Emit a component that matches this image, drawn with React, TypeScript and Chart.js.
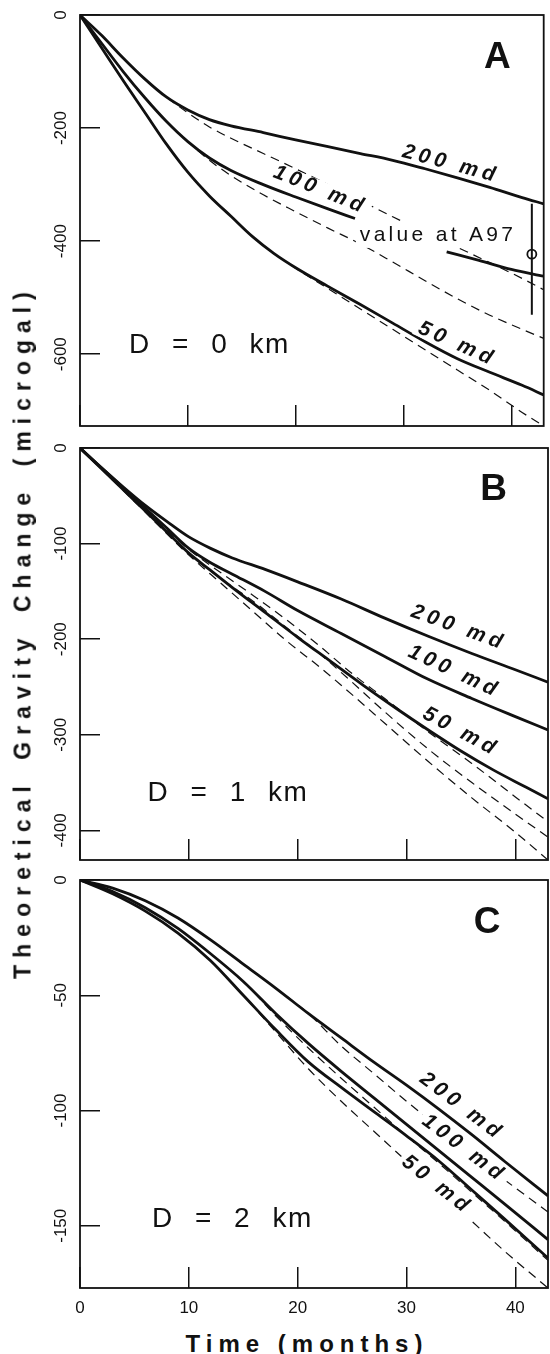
import React, { useEffect, useRef } from "react";
import { Chart, registerables } from "chart.js";

Chart.register(...registerables);

const FONT = '"Liberation Sans", Arial, Helvetica, sans-serif';
const INK = "#111111";

// ---------- axes ----------
const xTicks = [0, 10, 20, 30, 40];
const xTickLabels = ["0", "10", "20", "30", "40"];
const xMax = 43;

const yTicksA = [0, -200, -400, -600];
const yLabelsA = ["0", "-200", "-400", "-600"];
const yTicksB = [0, -100, -200, -300, -400];
const yLabelsB = ["0", "-100", "-200", "-300", "-400"];
const yTicksC = [0, -50, -100, -150];
const yLabelsC = ["0", "-50", "-100", "-150"];

// ---------- Panel A : D = 0 km ----------
const tA200 = [0, 2, 4, 6, 8, 10, 12, 14, 17, 20, 23, 26, 29, 32, 35, 38, 41, 43];
const gA200 = [0, -36, -76, -113, -145, -168, -185, -196, -208, -221, -233, -245, -257, -272, -288, -305, -323, -334];
const gA200dash = [0, -36, -76, -113, -145, -173, -198, -218, -245, -272, -300, -328, -357, -384, -411, -438, -466, -486];

const tA100first = [0, 2, 4, 6, 8, 10, 12, 14, 17, 20, 23, 25.5];
const gA100first = [0, -50, -100, -146, -188, -224, -253, -275, -300, -322, -343, -360];
const tA100second = [34, 37, 40, 43];
const gA100second = [-419, -434, -450, -462];
const tA100dash = [0, 2, 4, 6, 8, 10, 12, 14, 17, 20, 23, 26, 29, 32, 35, 38, 41, 43];
const gA100dash = [0, -50, -100, -146, -188, -224, -257, -284, -318, -348, -377, -405, -437, -470, -502, -531, -556, -572];

const tA50 = [0, 2, 4, 6, 8, 10, 12, 14, 16, 18, 20, 23, 26, 29, 32, 35, 38, 41, 43];
const gA50 = [0, -58, -116, -172, -228, -278, -320, -356, -392, -422, -447, -480, -512, -545, -578, -608, -632, -655, -672];
const gA50dash = [0, -58, -116, -172, -228, -278, -320, -356, -392, -422, -448, -484, -520, -556, -592, -628, -664, -703, -727];

// value at A97 (error bar)
const a97Time = [41.9];
const a97Value = [-423];
const a97Low = [-530];
const a97High = [-334];

// ---------- Panel B : D = 1 km ----------
const tB = [0, 2, 4, 6, 8, 10, 12, 14, 17, 20, 24, 28, 32, 36, 40, 43];
const gB200 = [0, -21, -41, -60, -77, -93, -105, -115, -127, -140, -158, -178, -197, -215, -232, -245];
const gB100 = [0, -21, -42, -63, -84, -105, -120, -132, -150, -170, -194, -218, -242, -262, -281, -295];
const tB50 = [0, 2, 4, 6, 8, 10, 12, 14, 17, 20, 23, 26, 29, 32, 35, 38, 41, 43];
const gB50 = [0, -22, -44, -66, -88, -110, -128, -146, -172, -198, -223, -248, -272, -295, -317, -337, -355, -367];
const tBdash = [0, 5, 10, 13, 16, 19, 22, 25, 28, 32, 36, 40, 43];
const gBdash1 = [0, -54, -106, -131, -155, -180, -207, -236, -262, -297, -330, -365, -391];
const gBdash2 = [0, -55, -111, -137, -161, -188, -215, -245, -276, -315, -350, -383, -407];
const gBdash3 = [0, -56, -112, -142, -172, -202, -229, -258, -288, -328, -366, -402, -431];

// ---------- Panel C : D = 2 km ----------
const tC = [0, 3, 6, 9, 12, 15, 18, 21, 24, 27, 30, 33, 36, 39, 43];
const gC200 = [0, -3.5, -9, -16.5, -26, -36.5, -47, -58, -68.5, -79, -89, -99.5, -110.5, -122, -137];
const gC100 = [0, -5, -12, -21, -32, -44, -58, -71, -83, -94.5, -106, -117.5, -129, -140.5, -156];
const gC50 = [0, -6, -13.5, -23, -35, -50, -65, -79, -90, -100.5, -111, -122, -134.5, -147, -164];
const gC200dash = [0, -3.5, -9, -16.5, -26, -36.5, -47, -58, -72, -84, -96, -107.5, -119, -130, -144];
const gC100dash = [0, -5, -12, -21, -32, -44, -59, -73, -86, -98.5, -111, -123, -135.5, -148, -165];
const gC50dash = [0, -6, -13.5, -23, -35, -50, -66, -82, -96, -109, -122, -135, -148, -161, -177];

// ---------- helpers ----------
const pts = (t: number[], v: number[]) => t.map((x, i) => ({ x, y: v[i] }));

const solid = (data: any) => ({
  type: "line",
  data,
  borderColor: INK,
  borderWidth: 2.8,
  pointRadius: 0,
  tension: 0.4,
  cubicInterpolationMode: "monotone",
  fill: false,
});
const dashed = (data: any) => ({ ...solid(data), borderWidth: 1.2, borderDash: [9, 6] });

type TextItem = {
  text: string;
  t: number;
  v: number;
  rot: number;
  font: string;
  ls?: number;
  ws?: number;
  box?: number;
};

const curveFont = `italic bold 21px ${FONT}`;
const dFont = `28px ${FONT}`;
const letterFont = `bold 37px ${FONT}`;

const panels = [
  {
    key: "A",
    top: 0,
    height: 440,
    padTop: 15,
    padBottom: 14,
    xAxisH: 0,
    yMin: -727,
    yTicks: yTicksA,
    yLabels: yLabelsA,
    showX: false,
    datasets: [
      dashed(pts(tA200, gA200dash)),
      dashed(pts(tA100dash, gA100dash)),
      dashed(pts(tA50, gA50dash)),
      solid(pts(tA200, gA200)),
      solid(pts(tA100first, gA100first)),
      solid(pts(tA100second, gA100second)),
      solid(pts(tA50, gA50)),
      {
        type: "line",
        data: [
          { x: a97Time[0], y: a97High[0] },
          { x: a97Time[0], y: a97Low[0] },
        ],
        borderColor: INK,
        borderWidth: 2,
        pointRadius: 0,
      },
      {
        type: "line",
        data: pts(a97Time, a97Value),
        showLine: false,
        pointRadius: 4.5,
        pointBackgroundColor: "#ffffff",
        pointBorderColor: INK,
        pointBorderWidth: 1.8,
      },
    ],
    texts: [
      { text: "A", t: 38.7, v: -76, rot: 0, font: letterFont },
      { text: "200 md", t: 34.4, v: -263.5, rot: 15, font: curveFont, ls: 4.5, box: 18 },
      { text: "100 md", t: 22.3, v: -309.5, rot: 22, font: curveFont, ls: 4.5, box: 18 },
      { text: "50 md", t: 35, v: -582, rot: 24, font: curveFont, ls: 4.5, box: 18 },
      { text: "value at A97", t: 33.2, v: -389, rot: 0, font: `21px ${FONT}`, ls: 3.3, box: 26 },
      { text: "D = 0 km", t: 12, v: -583.5, rot: 0, font: dFont, ls: 1.5, ws: 12 },
    ] as TextItem[],
  },
  {
    key: "B",
    top: 440,
    height: 430,
    padTop: 8,
    padBottom: 10,
    xAxisH: 0,
    yMin: -431,
    yTicks: yTicksB,
    yLabels: yLabelsB,
    showX: false,
    datasets: [
      dashed(pts(tBdash, gBdash1)),
      dashed(pts(tBdash, gBdash2)),
      dashed(pts(tBdash, gBdash3)),
      solid(pts(tB, gB200)),
      solid(pts(tB, gB100)),
      solid(pts(tB50, gB50)),
    ],
    texts: [
      { text: "B", t: 38, v: -44, rot: 0, font: letterFont },
      { text: "200 md", t: 34.8, v: -188, rot: 20, font: curveFont, ls: 4.5, box: 18 },
      { text: "100 md", t: 34.4, v: -234, rot: 25, font: curveFont, ls: 4.5, box: 18 },
      { text: "50 md", t: 35, v: -297, rot: 28, font: curveFont, ls: 4.5, box: 18 },
      { text: "D = 1 km", t: 13.6, v: -361, rot: 0, font: dFont, ls: 1.5, ws: 12 },
    ] as TextItem[],
  },
  {
    key: "C",
    top: 870,
    height: 450,
    padTop: 10,
    padBottom: 0,
    xAxisH: 32,
    yMin: -177,
    yTicks: yTicksC,
    yLabels: yLabelsC,
    showX: true,
    datasets: [
      dashed(pts(tC, gC200dash)),
      dashed(pts(tC, gC100dash)),
      dashed(pts(tC, gC50dash)),
      solid(pts(tC, gC200)),
      solid(pts(tC, gC100)),
      solid(pts(tC, gC50)),
    ],
    texts: [
      { text: "C", t: 37.4, v: -18.6, rot: 0, font: letterFont },
      { text: "200 md", t: 35.1, v: -98.3, rot: 37, font: curveFont, ls: 4.5, box: 17 },
      { text: "100 md", t: 35.3, v: -116.5, rot: 37, font: curveFont, ls: 4.5, box: 17 },
      { text: "50 md", t: 32.8, v: -132.3, rot: 38, font: curveFont, ls: 4.5, box: 17 },
      { text: "D = 2 km", t: 14, v: -147.4, rot: 0, font: dFont, ls: 1.5, ws: 12 },
    ] as TextItem[],
  },
];

function drawText(ctx: any, it: TextItem, x: number, y: number) {
  ctx.save();
  ctx.translate(x, y);
  ctx.rotate((it.rot * Math.PI) / 180);
  ctx.font = it.font;
  ctx.letterSpacing = `${it.ls || 0}px`;
  ctx.wordSpacing = `${it.ws || 0}px`;
  ctx.textAlign = "center";
  ctx.textBaseline = "middle";
  if (it.box) {
    const w = ctx.measureText(it.text).width;
    ctx.fillStyle = "#ffffff";
    ctx.fillRect(-w / 2 - 4, -it.box / 2, w + 8, it.box);
  }
  ctx.fillStyle = INK;
  ctx.fillText(it.text, 0, 0);
  ctx.restore();
}

function Panel({ cfg }: { cfg: any }) {
  const ref = useRef<HTMLCanvasElement>(null);
  useEffect(() => {
    const plugin = {
      id: "panelDecor",
      afterDraw(chart: any) {
        const ctx = chart.ctx;
        const a = chart.chartArea;
        const xs = chart.scales.x;
        const ys = chart.scales.y;
        for (const it of cfg.texts as TextItem[]) {
          drawText(ctx, it, xs.getPixelForValue(it.t), ys.getPixelForValue(it.v));
        }
        ctx.save();
        ctx.strokeStyle = INK;
        ctx.lineWidth = 1.8;
        ctx.strokeRect(a.left, a.top, a.right - a.left, a.bottom - a.top);
        ctx.font = `17px ${FONT}`;
        ctx.fillStyle = INK;
        ctx.textAlign = "center";
        ctx.textBaseline = "middle";
        ys.ticks.forEach((tk: any, i: number) => {
          const y = ys.getPixelForValue(tk.value);
          ctx.save();
          ctx.translate(a.left - 19, y);
          ctx.rotate(-Math.PI / 2);
          ctx.fillText(cfg.yLabels[i], 0, 0);
          ctx.restore();
        });
        ctx.restore();
      },
    };
    const chart = new Chart(ref.current as HTMLCanvasElement, {
      type: "line",
      data: { datasets: cfg.datasets },
      options: {
        animation: false,
        responsive: false,
        devicePixelRatio: 1,
        layout: { padding: { left: 80, right: 2, top: cfg.padTop, bottom: cfg.padBottom } },
        plugins: { legend: { display: false }, tooltip: { enabled: false } },
        scales: {
          x: {
            type: "linear",
            position: "bottom",
            min: 0,
            max: xMax,
            afterBuildTicks: (s: any) => {
              s.ticks = xTicks.map((v) => ({ value: v }));
            },
            afterFit: (s: any) => {
              s.height = cfg.xAxisH;
              s.paddingLeft = 0;
              s.paddingRight = 0;
              s.paddingTop = 0;
              s.paddingBottom = 0;
            },
            grid: { display: true, drawOnChartArea: false, drawTicks: true, tickLength: -21, color: INK, lineWidth: 1.5 },
            border: { display: false },
            ticks: {
              display: cfg.showX,
              padding: 31,
              color: INK,
              autoSkip: false,
              maxRotation: 0,
              font: { family: FONT, size: 17 },
              callback: (_v: any, i: number) => xTickLabels[i],
            },
          },
          y: {
            type: "linear",
            position: "left",
            min: cfg.yMin,
            max: 0,
            afterBuildTicks: (s: any) => {
              s.ticks = cfg.yTicks.map((v: number) => ({ value: v }));
            },
            afterFit: (s: any) => {
              s.width = 0;
              s.paddingTop = 0;
              s.paddingBottom = 0;
            },
            grid: { display: true, drawOnChartArea: false, drawTicks: true, tickLength: -20, color: INK, lineWidth: 1.5 },
            border: { display: false },
            ticks: { display: false },
          },
        },
      } as any,
      plugins: [plugin],
    } as any);
    return () => chart.destroy();
  }, []);
  return (
    <canvas
      ref={ref}
      width={550}
      height={cfg.height}
      style={{ position: "absolute", left: 0, top: cfg.top, width: 550, height: cfg.height, display: "block" }}
    />
  );
}

export default function App() {
  return (
    <div style={{ position: "absolute", left: 0, top: 0, width: 550, height: 1354, background: "#fff", overflow: "hidden" }}>
      {panels.map((p) => (
        <Panel key={p.key} cfg={p} />
      ))}
      <div
        style={{
          position: "absolute",
          left: 23,
          top: 632,
          transform: "translate(-50%, -50%) rotate(-90deg)",
          font: `bold 23px ${FONT}`,
          letterSpacing: "7px",
          wordSpacing: "6px",
          whiteSpace: "nowrap",
          color: INK,
          lineHeight: "1",
        }}
      >
        Theoretical Gravity Change (microgal)
      </div>
      <div
        style={{
          position: "absolute",
          left: 307,
          top: 1344,
          transform: "translate(-50%, -50%)",
          font: `bold 24px ${FONT}`,
          letterSpacing: "6px",
          whiteSpace: "nowrap",
          color: INK,
          lineHeight: "1",
        }}
      >
        Time (months)
      </div>
    </div>
  );
}
